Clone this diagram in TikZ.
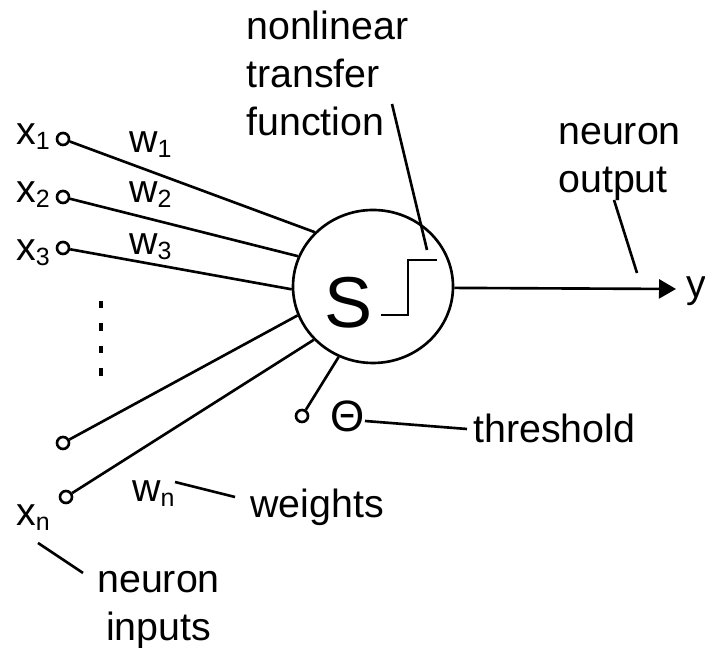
\documentclass[tikz,border=0pt]{standalone}
\usepackage{fontspec}
\setmainfont{Liberation Sans}
\usetikzlibrary{shapes.geometric, arrows.meta}
\newcommand{\subs}[1]{\raisebox{-1.4pt}{\fontsize{7.1}{8}\selectfont #1}}
\tikzset{
  lab/.style={anchor=base west, inner sep=0pt, font=\fontsize{11.2}{13.66}\selectfont, align=left},
  pin/.style={circle, draw, line width=.75pt, minimum size=.12cm, inner sep=0pt},
  wire/.style={line width=.75pt}
}
\begin{document}
\begin{tikzpicture}[wire]
\useasboundingbox (0, 0) rectangle (7.05, -6.48);
\node [ellipse, draw, line width=.75pt, minimum width=1.6cm, minimum height=1.53cm, inner sep=0pt] (neuron) at (3.73, -2.865) {};
\node [anchor=base, inner sep=0pt, font=\fontsize{20.5}{24}\selectfont] (sum) at (3.485, -3.28) {S};
\node [pin] (in1) at (.63, -1.39) {};
\node [pin] (in2) at (.63, -1.97) {};
\node [pin] (in3) at (.63, -2.48) {};
\node [pin] (in4) at (.63, -4.43) {};
\node [pin] (in5) at (.66, -4.97) {};
\node [pin] (bias) at (3.02, -4.16) {};
\draw (in1) -- (neuron.137);
\draw (in2) -- (neuron.158);
\draw (in3) -- (neuron.182);
\draw (in4) -- (neuron.201);
\draw (in5) -- (neuron.222);
\draw (bias) -- (neuron.244);
\draw (3.81, -3.15) -- (4.08, -3.15) -- (4.08, -2.60) -- (4.37, -2.60); %step
\draw [line width=1.1pt, dash pattern=on 2.1pt off 4.3pt] (1.01, -3.01) -- (1.01, -3.76);
\node [lab] (x1) at (.15, -1.45) {x\subs{1}};
\node [lab] (x2) at (.15, -2.03) {x\subs{2}};
\node [lab] (x3) at (.15, -2.61) {x\subs{3}};
\node [lab] (xn) at (.15, -5.26) {x\subs{n}};
\node [lab] (w1) at (1.28, -1.53) {w\subs{1}};
\node [lab] (w2) at (1.28, -2.03) {w\subs{2}};
\node [lab] (w3) at (1.28, -2.55) {w\subs{3}};
\node [lab] (wn) at (1.31, -5.02) {w\subs{n}};
\node [lab] (transfer) at (2.45, -1.36) {nonlinear\\transfer\\function};
\node [lab] (output) at (5.57, -1.93) {neuron\\output};
\node [lab] (y) at (6.85, -2.98) {y};
\node [lab, font=\fontsize{12.5}{15}\selectfont] (theta) at (3.29, -4.32) {Θ};
\node [lab] (threshold) at (4.72, -4.43) {threshold};
\node [lab] (weights) at (2.49, -5.18) {weights};
\node [lab, align=center] (inputs) at (.96, -6.41) {neuron\\inputs};
\coordinate (tip) at (6.76, -2.89);
\draw [-{Triangle[length=.17cm, width=.19cm]}] (neuron.-1) -- (tip);
\draw (3.92, -1.04) -- (4.27, -2.50);
\draw (6.14, -2.00) -- (6.37, -2.73);
\draw (3.65, -4.21) -- (4.67, -4.29);
\draw (1.75, -4.82) -- (2.35, -4.97);
\draw (.38, -5.43) -- (.83, -5.73);
\end{tikzpicture}
\end{document}
